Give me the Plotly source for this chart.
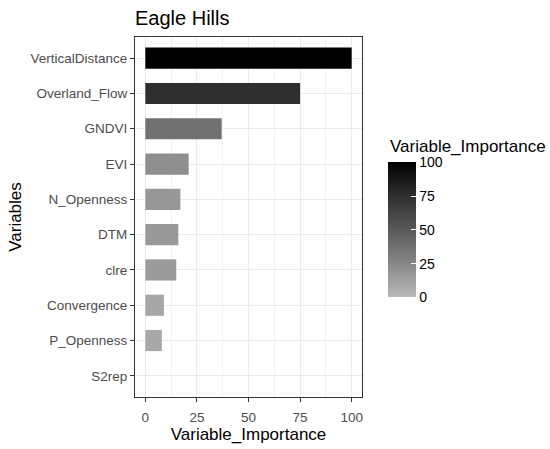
import plotly.graph_objects as go

variables = ["VerticalDistance", "Overland_Flow", "GNDVI", "EVI", "N_Openness",
             "DTM", "clre", "Convergence", "P_Openness", "S2rep"]
importance = [100, 75, 37, 21, 17, 16, 15, 9, 8, 0]
colorbar_ticks = [0, 25, 50, 75, 100]

grey_scale = [[0.0, "#b8b8b8"], [0.25, "#878787"], [0.5, "#595959"],
              [0.75, "#2f2f2f"], [1.0, "#000000"]]

font = "Liberation Sans, Arial, sans-serif"

fig = go.Figure()
fig.add_trace(
    go.Bar(
        x=importance,
        y=variables,
        orientation="h",
        width=0.6,
        marker={
            "color": importance,
            "colorscale": grey_scale,
            "cmin": 0,
            "cmax": 100,
            "line": {"width": 0},
            "colorbar": {
                "x": 1.115,
                "xanchor": "left",
                "y": 0.464,
                "yanchor": "middle",
                "len": 135,
                "lenmode": "pixels",
                "thickness": 28,
                "outlinewidth": 0,
                "ticks": "inside",
                "ticklen": 5,
                "tickcolor": "#ffffff",
                "tickvals": colorbar_ticks,
                "tickfont": {"size": 14, "color": "#000000", "family": font},
                "xpad": 0,
                "ypad": 0,
            },
        },
        showlegend=False,
    )
)

# colorbar title as a separate label, the way ggplot stacks it above the bar
fig.add_annotation(
    text="Variable_Importance", xref="paper", yref="paper",
    x=1.115, y=(402 - 148) / 365, xanchor="left", yanchor="middle",
    showarrow=False, font={"size": 17, "color": "#000000", "family": font},
)

fig.update_layout(
    width=550,
    height=449,
    margin={"l": 135, "r": 188, "t": 37, "b": 47},
    plot_bgcolor="#ffffff",
    paper_bgcolor="#ffffff",
    font={"family": font},
    title={"text": "Eagle Hills", "x": 135 / 550, "xanchor": "left",
           "y": 1 - 18 / 449, "yanchor": "middle",
           "font": {"size": 20, "color": "#000000", "family": font}},
)
fig.update_xaxes(
    range=[-5, 105],
    tickvals=[0, 25, 50, 75, 100],
    showgrid=True,
    gridcolor="#ebebeb",
    gridwidth=1,
    minor={"tickvals": [12.5, 37.5, 62.5, 87.5], "showgrid": True,
           "gridcolor": "#f2f2f2", "gridwidth": 1},
    ticks="outside",
    ticklen=4,
    tickcolor="#333333",
    ticklabelstandoff=4,
    tickfont={"size": 13.5, "color": "#4d4d4d"},
    title={"text": "Variable_Importance", "font": {"size": 17, "color": "#000000"},
           "standoff": 0},
    showline=True,
    linecolor="#333333",
    mirror=True,
    zeroline=False,
)
fig.update_yaxes(
    categoryorder="array",
    categoryarray=variables[::-1],
    range=[-0.6, 9.6],
    showgrid=True,
    gridcolor="#ebebeb",
    gridwidth=1,
    ticks="outside",
    ticklen=4,
    tickcolor="#333333",
    tickfont={"size": 13.5, "color": "#4d4d4d"},
    title={"text": "Variables", "font": {"size": 17, "color": "#000000"},
           "standoff": 4},
    showline=True,
    linecolor="#333333",
    mirror=True,
)

fig.write_html(
    "out.html",
    config={"displayModeBar": False},
    post_script="document.body.style.margin='0';",
)
